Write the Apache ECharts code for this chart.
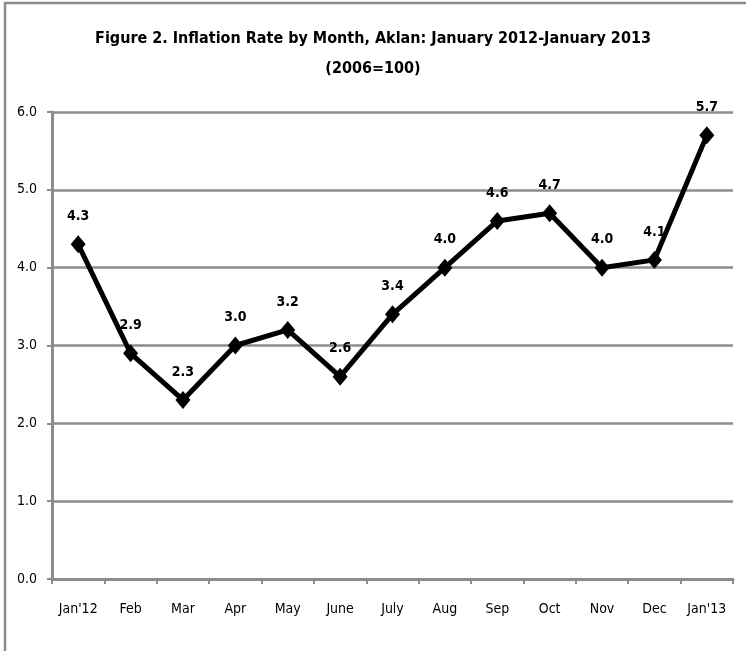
<!DOCTYPE html>
<html>
<head>
<meta charset="utf-8">
<script src="https://cdn.jsdelivr.net/npm/echarts@6/dist/echarts.min.js"></script>
<style>
  html, body { margin: 0; padding: 0; background: #fff; }
  #chart { width: 746px; height: 651px; }
</style>
</head>
<body>
<div id="chart"></div>
<script>
// Monthly inflation rate, Aklan (2006=100)
const months = ["Jan'12", "Feb", "Mar", "Apr", "May", "June", "July", "Aug", "Sep", "Oct", "Nov", "Dec", "Jan'13"];
const inflation = [4.3, 2.9, 2.3, 3.0, 3.2, 2.6, 3.4, 4.0, 4.6, 4.7, 4.0, 4.1, 5.7];
const titleLines = ["Figure 2. Inflation Rate by Month, Aklan: January 2012-January 2013", "(2006=100)"];

const FONT = "'Liberation Sans Narrow', 'Arial Narrow', 'DejaVu Sans Condensed', sans-serif";
const GRAY = '#8c8c8c';

const chart = echarts.init(document.getElementById('chart'), null, { renderer: 'canvas' });

chart.setOption({
  animation: false,
  backgroundColor: '#fff',
  textStyle: { fontFamily: FONT },
  title: {
    text: titleLines.join('\n'),
    left: 'center',
    top: 19,
    textStyle: {
      fontFamily: FONT,
      fontWeight: 'bold',
      fontSize: 16,
      lineHeight: 30,
      color: '#000'
    }
  },
  graphic: [{
    type: 'rect',
    shape: { x: 5, y: 3, width: 800, height: 700 },
    style: { fill: 'none', stroke: GRAY, lineWidth: 2.5 },
    silent: true,
    z: 100
  }],
  grid: { left: 52, right: 13, top: 112, bottom: 72 },
  xAxis: {
    type: 'category',
    data: months,
    boundaryGap: true,
    axisLine: { lineStyle: { color: GRAY, width: 3 } },
    axisTick: { show: true, length: 5, lineStyle: { color: GRAY, width: 2 } },
    axisLabel: { color: '#000', fontSize: 14, margin: 23, interval: 0, fontFamily: FONT }
  },
  yAxis: {
    type: 'value',
    min: 0,
    max: 6,
    interval: 1,
    axisLine: { show: true, lineStyle: { color: GRAY, width: 3 } },
    axisTick: { show: true, length: 5, lineStyle: { color: GRAY, width: 2 } },
    axisLabel: {
      color: '#000',
      fontSize: 14,
      margin: 15,
      fontFamily: FONT,
      formatter: v => v.toFixed(1)
    },
    splitLine: { show: true, lineStyle: { color: GRAY, width: 2.5 } }
  },
  series: [{
    type: 'line',
    data: inflation,
    symbol: 'diamond',
    symbolSize: [15, 18],
    itemStyle: { color: '#000' },
    lineStyle: { color: '#000', width: 5 },
    label: {
      show: true,
      position: 'top',
      distance: 12,
      color: '#000',
      fontWeight: 'bold',
      fontSize: 14,
      fontFamily: FONT,
      formatter: p => p.value.toFixed(1)
    },
    z: 5
  }]
});
</script>
</body>
</html>
